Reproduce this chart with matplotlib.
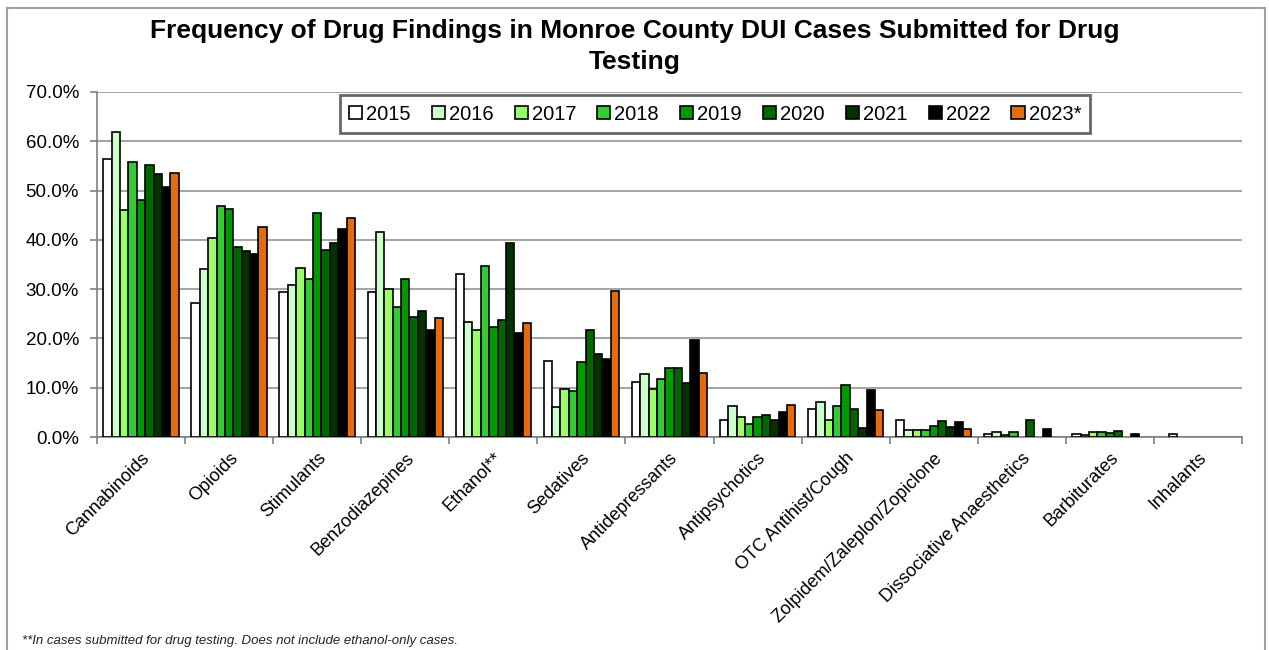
import matplotlib
matplotlib.use("Agg")
import matplotlib.pyplot as plt
import numpy as np

plt.rcParams['font.family'] = ['Liberation Sans', 'DejaVu Sans']

categories = ["Cannabinoids", "Opioids", "Stimulants", "Benzodiazepines", "Ethanol**",
              "Sedatives", "Antidepressants", "Antipsychotics", "OTC Antihist/Cough",
              "Zolpidem/Zaleplon/Zopiclone", "Dissociative Anaesthetics",
              "Barbiturates", "Inhalants"]
years = ["2015", "2016", "2017", "2018", "2019", "2020", "2021", "2022", "2023*"]

# percent values per year, one entry per category
v2015 = [56.5, 27.2, 29.4, 29.4, 33.1, 15.4, 11.1, 3.5, 5.7, 3.5, 0.6, 0.7, 0.0]
v2016 = [61.9, 34.0, 30.9, 41.5, 23.4, 6.1, 12.7, 6.2, 7.1, 1.5, 1.0, 0.5, 0.6]
v2017 = [46.0, 40.4, 34.2, 30.0, 21.7, 9.7, 9.7, 4.1, 3.5, 1.5, 0.5, 1.0, 0.0]
v2018 = [55.8, 46.9, 32.0, 26.4, 34.6, 9.4, 11.8, 2.7, 6.3, 1.5, 1.0, 1.0, 0.0]
v2019 = [48.1, 46.2, 45.5, 32.1, 22.3, 15.2, 13.9, 4.1, 10.6, 2.2, 0.0, 0.8, 0.0]
v2020 = [55.1, 38.5, 37.9, 24.4, 23.7, 21.7, 13.9, 4.5, 5.7, 3.3, 3.4, 1.3, 0.0]
v2021 = [53.3, 37.8, 39.4, 25.6, 39.4, 16.8, 11.0, 3.5, 1.9, 2.0, 0.0, 0.0, 0.0]
v2022 = [50.8, 37.1, 42.2, 21.8, 21.1, 15.9, 19.6, 5.1, 9.6, 3.0, 1.6, 0.7, 0.0]
v2023 = [53.6, 42.7, 44.4, 24.1, 23.1, 29.6, 12.9, 6.5, 5.5, 1.7, 0.0, 0.0, 0.0]
series = [v2015, v2016, v2017, v2018, v2019, v2020, v2021, v2022, v2023]

colors = ["#FFFFFF", "#CCFFCC", "#99FF66", "#33CC33", "#009900",
          "#006600", "#003300", "#000000", "#E46C0A"]

fig = plt.figure(figsize=(12.69, 6.5), dpi=100)
ax = fig.add_axes([97 / 1269, 1 - 437 / 650, (1242 - 97) / 1269, (437 - 92) / 650])

x = np.arange(len(categories))
bw = 1 / 10.5
for i, (vals, col, yr) in enumerate(zip(series, colors, years)):
    vals = np.array(vals) / 100
    offs = (i - 4) * bw
    h = np.where(vals > 0, vals, np.nan)
    ax.bar(x + offs, h, width=bw, color=col, edgecolor="black", linewidth=1.2,
           label=yr, zorder=3)

ax.set_xlim(-0.5, len(categories) - 0.5)
ax.set_ylim(0, 0.70)
ax.set_yticks(np.arange(0, 0.71, 0.10))
ax.set_yticklabels([f"{t * 100:.1f}%" for t in np.arange(0, 0.71, 0.10)], fontsize=13.5)
ax.yaxis.grid(True, color="#A6A6A6", linewidth=1.5, zorder=0)
ax.set_axisbelow(True)

ax.set_xticks(x)
ax.set_xticklabels(categories, rotation=45, ha="right", rotation_mode="anchor", fontsize=13)
ax.tick_params(axis="x", which="major", length=0, pad=9)
ax.set_xticks(np.arange(-0.5, len(categories), 1), minor=True)
ax.tick_params(axis="x", which="minor", length=5, color="#808080", width=1.2)
ax.tick_params(axis="y", length=5, color="#808080", width=1.2, pad=8)

for s in ["top", "right"]:
    ax.spines[s].set_visible(False)
for s in ["left", "bottom"]:
    ax.spines[s].set_color("#808080")
    ax.spines[s].set_linewidth(1.2)

fig.text(0.5, 1 - 31 / 650, "Frequency of Drug Findings in Monroe County DUI Cases Submitted for Drug",
         ha="center", va="center", fontsize=19, fontweight="bold")
fig.text(0.5, 1 - 62 / 650, "Testing", ha="center", va="center", fontsize=19, fontweight="bold")

leg = fig.legend(loc="center", bbox_to_anchor=(715 / 1269, 1 - 114 / 650), ncol=9,
                 fontsize=14.5, frameon=True, fancybox=False, handlelength=0.65,
                 handleheight=0.65, handletextpad=0.2, columnspacing=1.05,
                 borderpad=0.45)
leg.get_frame().set_edgecolor("#404040")
leg.get_frame().set_linewidth(2)

fig.text(22 / 1269, 1 - 641 / 650,
         "**In cases submitted for drug testing. Does not include ethanol-only cases.",
         fontsize=9.5, style="italic", ha="left", va="center", color="#222222")

border = plt.Rectangle((7 / 1269, -0.02), (1265 - 7) / 1269, 1.02 - 8 / 650,
                       transform=fig.transFigure, fill=False, edgecolor="#A0A0A0",
                       linewidth=1.5)
fig.patches.append(border)

fig.savefig("out.png", dpi=100)
